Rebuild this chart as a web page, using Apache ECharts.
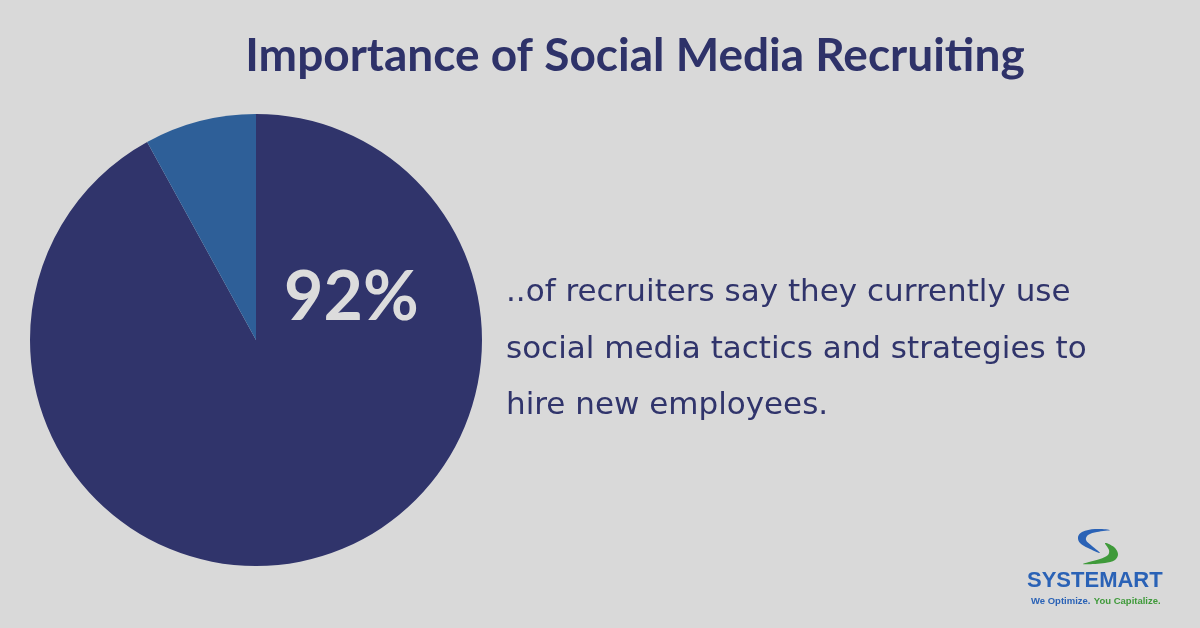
<!DOCTYPE html>
<html>
<head>
<meta charset="utf-8">
<script src="https://cdn.jsdelivr.net/npm/echarts@6/dist/echarts.min.js"></script>
<style>
  html, body { margin: 0; padding: 0; background: #d9d9d9; }
  #chart { width: 1200px; height: 628px; }
</style>
</head>
<body>
<div id="chart"></div>
<script>
// data
const sliceNames = ['Use social media', 'Do not']
const sliceValues = [92, 8]
const sliceColors = ['#30346b', '#2e5f98']
const titleText = 'Importance of Social Media Recruiting'
const bigLabel = '92%'
const bodyLines = [
  '..of recruiters say they currently use',
  'social media tactics and strategies to',
  'hire new employees.'
]

const chart = echarts.init(document.getElementById('chart'))

const option = {
  backgroundColor: '#d9d9d9',
  animation: false,
  series: [
    {
      type: 'pie',
      z: 1,
      center: [256, 340],
      radius: 226,
      startAngle: 90,
      clockwise: true,
      label: { show: false },
      labelLine: { show: false },
      emphasis: { disabled: true },
      data: sliceNames.map((n, i) => ({
        name: n,
        value: sliceValues[i],
        itemStyle: { color: sliceColors[i] }
      }))
    }
  ],
  graphic: [
    {
      type: 'text',
      x: 635,
      y: 79,
      style: {
        text: titleText,
        align: 'center',
        verticalAlign: 'bottom',
        fontFamily: 'Lato',
        fontWeight: 'bold',
        fontSize: 46,
        fill: '#2e3269'
      }
    },
    {
      type: 'text',
      z: 100,
      x: 284,
      y: 298,
      style: {
        text: bigLabel,
        verticalAlign: 'middle',
        fontFamily: 'Lato',
        fontWeight: 'bold',
        fontSize: 68,
        fill: '#dcdcdc'
      }
    },
    {
      type: 'text',
      x: 506,
      y: 265,
      style: {
        text: bodyLines.join('\n'),
        fontFamily: 'DejaVu Sans',
        fontSize: 31,
        lineHeight: 56.5,
        fill: '#30346b'
      }
    },
    // logo mark
    {
      type: 'polygon',
      shape: {
        smooth: 0.35,
        points: [[1110, 530], [1095, 529], [1082, 532], [1078, 537], [1080, 543], [1088, 548],
          [1100, 553], [1092, 546], [1086, 540], [1088, 535], [1097, 532]]
      },
      style: { fill: '#2a62b6' }
    },
    {
      type: 'polygon',
      shape: {
        smooth: 0.35,
        points: [[1105, 543], [1114, 547], [1118, 554], [1115, 560], [1105, 563], [1083, 564],
          [1100, 559], [1108, 555], [1109, 550]]
      },
      style: { fill: '#3f9a3a' }
    },
    {
      type: 'text',
      x: 1027,
      y: 581,
      style: {
        text: 'SYSTEMART',
        verticalAlign: 'middle',
        fontFamily: 'Liberation Sans',
        fontWeight: 'bold',
        fontSize: 22,
        fill: '#2a62b6'
      }
    },
    {
      type: 'text',
      x: 1031,
      y: 601,
      style: {
        verticalAlign: 'middle',
        rich: {
          a: { fontFamily: 'Liberation Sans', fontWeight: 'bold', fontSize: 9.5, fill: '#2a62b6' },
          b: { fontFamily: 'Liberation Sans', fontWeight: 'bold', fontSize: 9.5, fill: '#3f9a3a' }
        },
        text: '{a|We Optimize.} {b|You Capitalize.}'
      }
    }
  ]
}

chart.setOption(option)
</script>
</body>
</html>
